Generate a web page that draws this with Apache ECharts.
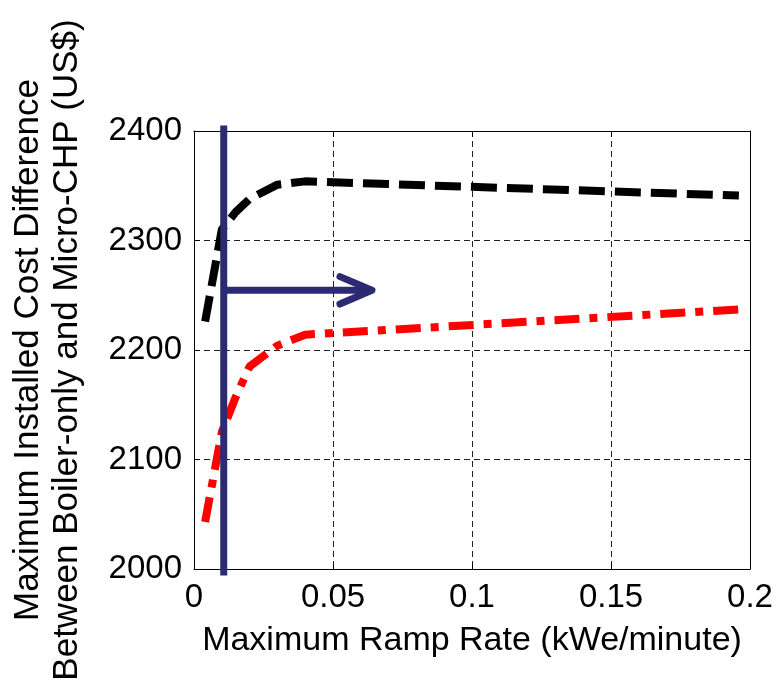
<!DOCTYPE html>
<html>
<head>
<meta charset="UTF-8">
<title>Ramp rate chart</title>
<script src="https://cdn.jsdelivr.net/npm/echarts@6/dist/echarts.min.js"></script>
<style>
  html, body { margin: 0; padding: 0; background: #fff; }
  #chart { width: 780px; height: 681px; }
</style>
</head>
<body>
<div id="chart"></div>
<script>
// ramp rate (kWe/minute) and cost difference readings
var blackX = [0.004, 0.01, 0.015, 0.02, 0.03, 0.04, 0.196];
var blackY = [2226, 2310, 2326, 2338, 2351, 2354, 2341];
var redX = [0.004, 0.01, 0.015, 0.02, 0.03, 0.04, 0.196];
var redY = [2043, 2125, 2157, 2185, 2204, 2214, 2237];

var xTickLabels = ['0', '0.05', '0.1', '0.15', '0.2'];
var yTickLabels = ['2000', '2100', '2200', '2300', '2400'];

// blue marker: vertical bar + arrow pointing right
var markerX = 0.0107;
var markerYRange = [1994, 2405];
var arrowY = 2254.5;
var arrowTipX = 0.064;
var arrowBackX = 0.0525;
var arrowHeadSpread = 12.5;

function pairs(xs, ys) {
    var out = [];
    for (var i = 0; i < xs.length; i++) out.push([xs[i], ys[i]]);
    return out;
}

var font = "'Liberation Sans', Arial, sans-serif";
var blue = '#2B2A72';

var chart = echarts.init(document.getElementById('chart'));

var option = {
    animation: false,
    backgroundColor: '#fff',
    grid: { left: 194, right: 30, top: 131, bottom: 112, containLabel: false, outerBoundsMode: 'none' },
    xAxis: [{
        type: 'value', min: 0, max: 0.2, interval: 0.05,
        axisLine: { show: true, onZero: false, lineStyle: { color: '#000', width: 1 } },
        axisTick: { show: true, inside: true, length: 6, lineStyle: { color: '#000' } },
        axisLabel: {
            margin: 12, fontSize: 33, color: '#000', fontFamily: font,
            formatter: function (v, i) { return xTickLabels[i]; }
        },
        splitLine: { show: true, lineStyle: { color: '#222', type: [6, 4], width: 1 } },
        name: 'Maximum Ramp Rate (kWe/minute)',
        nameLocation: 'middle', nameGap: 55,
        nameTextStyle: { fontSize: 34, color: '#000', fontFamily: font }
    }, {
        type: 'value', min: 0, max: 0.2, interval: 0.05, position: 'top',
        axisLine: { show: true, onZero: false, lineStyle: { color: '#000', width: 1 } },
        axisTick: { show: true, inside: true, length: 6, lineStyle: { color: '#000' } },
        axisLabel: { show: false },
        splitLine: { show: false }
    }],
    yAxis: [{
        type: 'value', min: 2000, max: 2400, interval: 100,
        axisLine: { show: true, onZero: false, lineStyle: { color: '#000', width: 1 } },
        axisTick: { show: true, inside: true, length: 6, lineStyle: { color: '#000' } },
        axisLabel: {
            margin: 12, fontSize: 33, color: '#000', fontFamily: font,
            formatter: function (v, i) { return yTickLabels[i]; }
        },
        splitLine: { show: true, lineStyle: { color: '#222', type: [6, 4], width: 1 } },
        name: 'Maximum Installed Cost Difference\nBetween Boiler-only and Micro-CHP (US$)',
        nameLocation: 'middle', nameRotate: 90, nameGap: 107,
        nameTextStyle: { fontSize: 35, lineHeight: 39, color: '#000', fontFamily: font }
    }, {
        type: 'value', min: 2000, max: 2400, interval: 100, position: 'right',
        axisLine: { show: true, onZero: false, lineStyle: { color: '#000', width: 1 } },
        axisTick: { show: true, inside: true, length: 6, lineStyle: { color: '#000' } },
        axisLabel: { show: false },
        splitLine: { show: false }
    }],
    series: [{
        name: 'black', type: 'line', symbol: 'none',
        data: pairs(blackX, blackY),
        lineStyle: { color: '#000', width: 8, type: [26, 10], cap: 'butt' }
    }, {
        name: 'red', type: 'line', symbol: 'none',
        data: pairs(redX, redY),
        lineStyle: { color: '#FF0000', width: 8, type: [25, 10, 8, 10], cap: 'butt' }
    }, {
        name: 'marker', type: 'line', symbol: 'none', clip: false,
        data: [[markerX, markerYRange[0]], [markerX, markerYRange[1]]],
        lineStyle: { color: blue, width: 7, cap: 'butt' }
    }, {
        name: 'arrow', type: 'line', symbol: 'none', clip: false,
        data: [[markerX, arrowY], [arrowTipX, arrowY]],
        lineStyle: { color: blue, width: 7, cap: 'butt' }
    }, {
        name: 'arrowHead', type: 'line', symbol: 'none', clip: false,
        data: [[arrowBackX, arrowY + arrowHeadSpread], [arrowTipX, arrowY], [arrowBackX, arrowY - arrowHeadSpread]],
        lineStyle: { color: blue, width: 7, cap: 'round', join: 'round' }
    }]
};

chart.setOption(option);
</script>
</body>
</html>
